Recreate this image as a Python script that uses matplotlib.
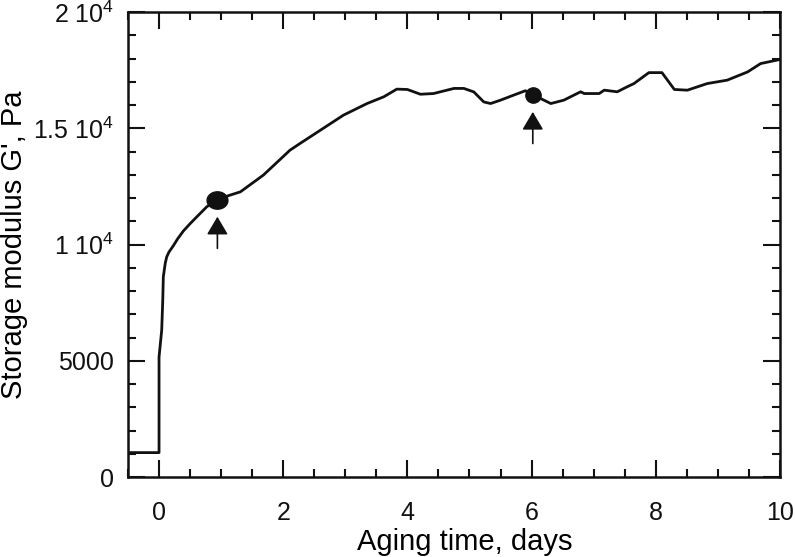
import matplotlib
matplotlib.use("Agg")
import numpy as np
import matplotlib.pyplot as plt
from matplotlib.path import Path
from matplotlib.ticker import MultipleLocator, FixedLocator

plt.rcParams["font.family"] = ["Liberation Sans", "DejaVu Sans"]
plt.rcParams["mathtext.fontset"] = "custom"
plt.rcParams["mathtext.rm"] = "Liberation Sans"
plt.rcParams["mathtext.it"] = "Liberation Sans"

# aging curve (days, Pa)
aging_days = [-0.5, 0.0, 0.0, 0.043, 0.06, 0.069, 0.1, 0.124, 0.16, 0.23, 0.3,
              0.39, 0.5, 0.61, 0.77, 0.94, 1.145, 1.31, 1.68, 2.11, 2.27, 2.6,
              2.97, 3.35, 3.62, 3.83, 4.0, 4.21, 4.42, 4.75, 4.91, 5.07, 5.23,
              5.34, 5.5, 5.71, 5.9, 6.02, 6.31, 6.52, 6.79, 6.85, 7.09, 7.17,
              7.38, 7.54, 7.65, 7.89, 8.1, 8.19, 8.3, 8.51, 8.83, 9.15, 9.48,
              9.69, 10.0]
storage_modulus = [1050, 1050, 5160, 6320, 7610, 8615, 9200, 9475, 9680, 9950,
                   10250, 10580, 10900, 11200, 11630, 11940, 12130, 12270, 12990,
                   14065, 14350, 14925, 15570, 16070, 16360, 16690, 16675, 16470,
                   16500, 16720, 16720, 16570, 16140, 16070, 16215, 16430, 16620,
                   16450, 16070, 16215, 16575, 16500, 16500, 16645, 16575, 16790,
                   16930, 17400, 17400, 17075, 16675, 16645, 16930, 17075, 17430,
                   17790, 17965]

# highlighted samples and their arrows
marked_days = [0.94, 6.02]
marked_modulus = [11940, 16450]
arrow_tip = [11200, 15710]
arrow_tail = [9840, 14350]

# slightly wide ellipse for the first marker
t = np.linspace(0, 2 * np.pi, 60)
ellipse = Path(np.column_stack([1.2 * np.cos(t), np.sin(t)]), closed=True)

fig = plt.figure(figsize=(7.95, 5.57), dpi=100)
ax = fig.add_axes([0.161, 0.1436, 0.82, 0.8345])

ax.plot(aging_days, storage_modulus, color="#111111", linewidth=2.0)
ax.plot(marked_days[0], marked_modulus[0], marker=ellipse, color="#111111",
        markersize=15, linestyle="none")
ax.plot(marked_days[1], marked_modulus[1], "o", color="#111111", markersize=11)

for xd, tip, tail in zip(marked_days, arrow_tip, arrow_tail):
    ax.annotate("", xy=(xd, tip), xytext=(xd, tail),
                arrowprops=dict(arrowstyle="-|>,head_width=0.65,head_length=1.1",
                                color="#111111", lw=1.2, shrinkA=0, shrinkB=0))

ax.set_xlim(-0.5, 10)
ax.set_ylim(0, 20000)
ax.xaxis.set_major_locator(MultipleLocator(2))
ax.xaxis.set_minor_locator(MultipleLocator(0.5))
ax.yaxis.set_major_locator(FixedLocator([0, 5000, 10000, 15000, 20000]))
ax.yaxis.set_minor_locator(MultipleLocator(1000))
ax.set_yticklabels(["0", "5000", r"1 10$^{4}$", r"1.5 10$^{4}$", r"2 10$^{4}$"])

ax.tick_params(which="both", direction="in", top=True, right=True,
               labelsize=18, width=1.5, colors="#111111")
ax.tick_params(which="major", length=12)
ax.tick_params(axis="y", which="major", pad=10)
ax.tick_params(axis="x", which="major", pad=17)
ax.tick_params(which="minor", length=6)
for s in ax.spines.values():
    s.set_linewidth(1.8)
    s.set_color("#111111")

ax.set_xlabel("Aging time, days", fontsize=21, labelpad=5)
ax.xaxis.set_label_coords(0.517, -0.11, transform=ax.transAxes)
ax.xaxis.label.set_va("top")
ax.set_ylabel("Storage modulus G', Pa", fontsize=21, labelpad=4)

fig.savefig("out.png", dpi=100)
